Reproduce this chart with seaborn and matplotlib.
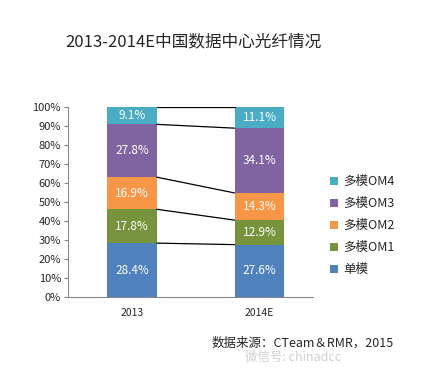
import numpy as np
import pandas as pd

import matplotlib
matplotlib.use('Agg')
import matplotlib.pyplot as plt
from matplotlib.patches import Patch
import seaborn as sns

# data
years = ['2013', '2014E']
series = ['单模', '多模OM1', '多模OM2', '多模OM3', '多模OM4']
values = {
    '单模': [28.4, 27.6],
    '多模OM1': [17.8, 12.9],
    '多模OM2': [16.9, 14.3],
    '多模OM3': [27.8, 34.1],
    '多模OM4': [9.1, 11.1],
}
colors = ['#4F81BD', '#77933C', '#F79646', '#8064A2', '#4BACC6']

sns.set_style('white')
plt.rcParams['font.family'] = ['Noto Sans CJK SC', 'DejaVu Sans']

# long form with cumulative tops
rows = []
for s in series:
    for i, y in enumerate(years):
        rows.append({'year': y, 'series': s, 'value': values[s][i]})
df = pd.DataFrame(rows)
df['top'] = df.groupby('year')['value'].cumsum()
df['bottom'] = df['top'] - df['value']

fig = plt.figure(figsize=(4.30, 3.77), dpi=100)
ax = fig.add_axes([0.158, 0.212, 0.570, 0.504])

width = 0.39
# stacked bars drawn top-down so lower segments cover upper ones
for s, c in reversed(list(zip(series, colors))):
    sub = df[df['series'] == s]
    sns.barplot(data=sub, x='year', y='top', order=years, color=c,
                width=width, saturation=1, ax=ax, edgecolor='none')

# segment labels
for _, r in df.iterrows():
    xi = years.index(r['year'])
    ax.text(xi, (r['top'] + r['bottom']) / 2, f"{r['value']:.1f}%",
            ha='center', va='center', color='white', fontsize=8.5)

# connector lines between bars
tops = df.pivot(index='series', columns='year', values='top')
for s in series:
    ax.plot([width / 2, 1 - width / 2], [tops.loc[s, years[0]], tops.loc[s, years[1]]],
            color='black', lw=0.9)

ax.set_xlim(-0.502, 1.42)
ax.set_ylim(0, 100)
ax.set_yticks(np.arange(0, 101, 10))
ax.set_yticklabels([f'{t}%' for t in range(0, 101, 10)], fontsize=8)
ax.set_xticks([0, 1])
ax.set_xticklabels(years, fontsize=7.5)
ax.set_xlabel('')
ax.set_ylabel('')
ax.tick_params(axis='y', length=3, color='#888888', pad=2, left=True)
ax.tick_params(axis='x', length=0, pad=8)
for sp in ['top', 'right']:
    ax.spines[sp].set_visible(False)
ax.spines['left'].set_color('#888888')
ax.spines['bottom'].set_color('#888888')
ax.spines['left'].set_linewidth(0.8)
ax.spines['bottom'].set_linewidth(0.8)

handles = [Patch(facecolor=c, edgecolor='none', label=s)
           for s, c in reversed(list(zip(series, colors)))]
ax.legend(handles=handles, loc='upper left', bbox_to_anchor=(0.755, 0.548),
          bbox_transform=fig.transFigure, frameon=False, fontsize=9,
          handlelength=0.7, handleheight=0.7, handletextpad=0.4,
          labelspacing=0.72, borderaxespad=0)

fig.text(0.153, 0.888, '2013-2014E中国数据中心光纤情况', fontsize=12,
         ha='left', va='center')
fig.text(0.493, 0.09, '数据来源：CTeam＆RMR，2015', fontsize=9,
         ha='left', va='center')
fig.text(0.57, 0.052, '微信号: chinadcc', fontsize=9, color='#d0d0d0',
         ha='left', va='center')

fig.savefig('out.png', dpi=100)
